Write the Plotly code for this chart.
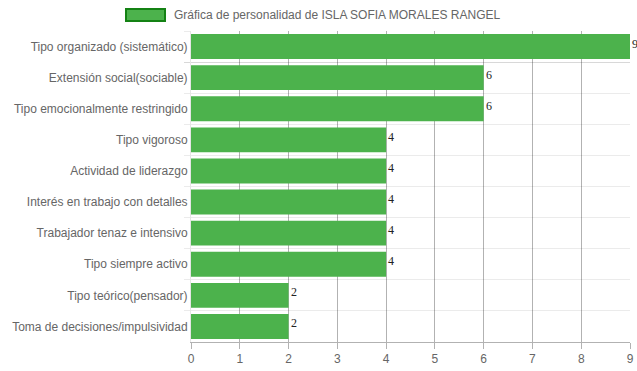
import plotly.graph_objects as go

categories = [
    "Tipo organizado (sistemático)",
    "Extensión social(sociable)",
    "Tipo emocionalmente restringido",
    "Tipo vigoroso",
    "Actividad de liderazgo",
    "Interés en trabajo con detalles",
    "Trabajador tenaz e intensivo",
    "Tipo siempre activo",
    "Tipo teórico(pensador)",
    "Toma de decisiones/impulsividad",
]
values = [9, 6, 6, 4, 4, 4, 4, 4, 2, 2]
x_ticks = list(range(0, 10))
series_name = "Gráfica de personalidad de ISLA SOFIA MORALES RANGEL"

fig = go.Figure()
fig.add_trace(go.Bar(
    y=categories, x=values, orientation="h",
    marker=dict(color="rgb(76,178,76)", line=dict(width=0)),
    width=0.8,
    name=series_name, showlegend=False,
))

for c, v in zip(categories, values):
    fig.add_annotation(x=v, y=c, xref="x", yref="y", text=str(v), showarrow=False,
                       xanchor="left", yanchor="middle", xshift=0, yshift=3,
                       font=dict(family="Liberation Serif, Times New Roman, serif",
                                 size=12, color="#222"))

fig.update_layout(
    width=637, height=371,
    margin=dict(l=191, r=7, t=31, b=29, autoexpand=False),
    paper_bgcolor="white", plot_bgcolor="white",
    font=dict(family="Liberation Sans, Arial, sans-serif", size=12, color="#666"),
    bargap=0.2,
    xaxis=dict(
        range=[0, 9], tickvals=x_ticks, showgrid=True, gridcolor="rgba(0,0,0,0.3)",
        gridwidth=1, zeroline=False, showline=True, linecolor="rgba(0,0,0,0.3)",
        ticks="outside", ticklen=6, tickcolor="rgba(0,0,0,0.3)",
        tickfont=dict(size=12, color="#666"), automargin=False,
    ),
    yaxis=dict(
        type="category", autorange="reversed", tickson="boundaries",
        showgrid=True, gridcolor="rgba(0,0,0,0.08)", zeroline=False,
        showline=True, linecolor="rgba(0,0,0,0.1)",
        ticks="outside", ticklen=6, tickcolor="rgba(0,0,0,0.08)",
        tickfont=dict(size=12, color="#666"), automargin=False,
    ),
)

# Legend drawn manually (Chart.js style wide box)
fig.add_shape(type="rect", xref="paper", yref="paper",
              x0=(126 - 191) / 439, x1=(165 - 191) / 439,
              y0=1 + (31 - 21) / 311, y1=1 + (31 - 9) / 311,
              fillcolor="rgb(76,178,76)", line=dict(color="rgb(20,130,20)", width=2))
fig.add_annotation(xref="paper", yref="paper", x=(172 - 191) / 439, y=1 + (31 - 15) / 311,
                   text=series_name, showarrow=False, xanchor="left", yanchor="middle",
                   font=dict(size=12, color="#666"))

fig.write_html("out.html")
